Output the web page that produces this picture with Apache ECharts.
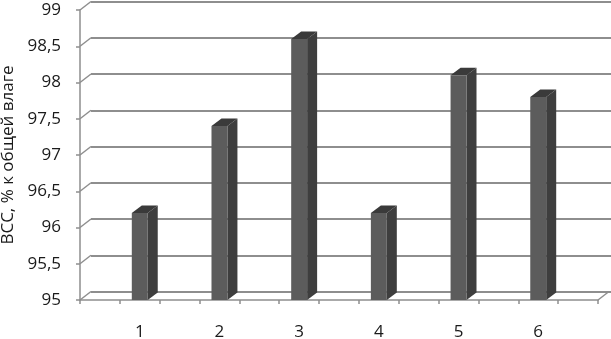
<!DOCTYPE html>
<html><head><meta charset="utf-8">
<script src="https://cdn.jsdelivr.net/npm/echarts@6/dist/echarts.min.js"></script>
<style>html,body{margin:0;padding:0;background:#fff}#c{width:611px;height:339px}</style>
</head><body><div id="c"></div>
<script>
var categories = ['1', '2', '3', '4', '5', '6'];
var values = [96.2, 97.4, 98.6, 96.2, 98.1, 97.8];
var yTicks = [95, 95.5, 96, 96.5, 97, 97.5, 98, 98.5, 99];
var yMin = 95, yMax = 99, yStep = 0.5;
var axisTitle = 'ВСС, % к общей влаге';

// 13 slots: empty gaps between labelled categories
var slots = [''];
categories.forEach(function (c) { slots.push(c); slots.push(''); });
var barData = values.map(function (v, i) { return [2 * i + 1, v]; });

var DX = 10, DY = -7.5;      // bar depth offset (px)
var WX = 11, WY = -8.5;      // wall depth offset (px)
var gridCol = '#8e8e8e';
var font = 'Open Sans';

var chart = echarts.init(document.getElementById('c'), null, { renderer: 'canvas' });
chart.setOption({
  animation: false,
  grid: [
    { left: 80, right: 13, top: 10, bottom: 39, containLabel: false, outerBoundsMode: 'none' },
    { left: 91, right: 0, top: 1.5, bottom: 47.5, containLabel: false, outerBoundsMode: 'none' }
  ],
  xAxis: [
    { type: 'category', gridIndex: 0, data: slots, boundaryGap: true,
      axisLine: { show: true, lineStyle: { color: gridCol, width: 1.5 } },
      axisTick: { show: true, interval: 0, length: 4, lineStyle: { color: gridCol, width: 1.5 } },
      axisLabel: { interval: 0, margin: 24, color: '#1a1a1a', fontSize: 17, fontFamily: font } },
    { type: 'category', gridIndex: 1, data: slots, show: false }
  ],
  yAxis: [
    { type: 'value', gridIndex: 0, min: yMin, max: yMax, interval: yStep,
      name: axisTitle, nameLocation: 'middle', nameGap: 59,
      nameTextStyle: { color: '#1a1a1a', fontSize: 17, fontFamily: font },
      axisLine: { show: true, lineStyle: { color: gridCol, width: 1.5 } },
      axisTick: { show: true, length: 4, lineStyle: { color: gridCol, width: 1.5 } },
      axisLabel: { color: '#1a1a1a', fontSize: 17, fontFamily: font, margin: 19,
        formatter: function (v) { return String(v).replace('.', ','); } },
      splitLine: { show: false } },
    { type: 'value', gridIndex: 1, min: yMin, max: yMax, interval: yStep,
      axisLine: { show: false }, axisTick: { show: false }, axisLabel: { show: false },
      splitLine: { show: true, lineStyle: { color: gridCol, width: 2 } } }
  ],
  series: [
    { // side wall diagonals
      type: 'custom', xAxisIndex: 0, yAxisIndex: 0,
      data: yTicks.map(function (t) { return [0, t]; }),
      renderItem: function (params, api) {
        var p = api.coord([0, api.value(1)]);
        var half = api.size([1, 0])[0] / 2;
        var x0 = p[0] - half;
        var children = [{ type: 'line', shape: { x1: x0, y1: p[1], x2: x0 + WX, y2: p[1] + WY },
          style: { stroke: gridCol, lineWidth: 1.5 } }];
        if (api.value(1) === yMin) {
          var q = api.coord([slots.length - 1, yMin]);
          var xr = q[0] + half;
          children.push({ type: 'line', shape: { x1: xr, y1: q[1], x2: xr + WX, y2: q[1] + WY },
            style: { stroke: gridCol, lineWidth: 1.5 } });
        }
        return { type: 'group', children: children };
      }
    },
    { // 3D bars
      type: 'custom', xAxisIndex: 0, yAxisIndex: 0, data: barData,
      renderItem: function (params, api) {
        var top = api.coord([api.value(0), api.value(1)]);
        var bot = api.coord([api.value(0), yMin]);
        var w = api.size([1, 0])[0] * 0.4;
        var x0 = top[0] - w / 2, x1 = top[0] + w / 2;
        return { type: 'group', children: [
          { type: 'polygon', shape: { points: [[x1, top[1]], [x1 + DX, top[1] + DY], [x1 + DX, bot[1] + DY], [x1, bot[1]]] },
            style: { fill: '#3e3e3e' } },
          { type: 'polygon', shape: { points: [[x0, top[1]], [x0 + DX, top[1] + DY], [x1 + DX, top[1] + DY], [x1, top[1]]] },
            style: { fill: '#3a3a3a' } },
          { type: 'rect', shape: { x: x0, y: top[1], width: w, height: bot[1] - top[1] },
            style: { fill: '#5c5c5c' } }
        ] };
      }
    }
  ]
});
</script></body></html>
